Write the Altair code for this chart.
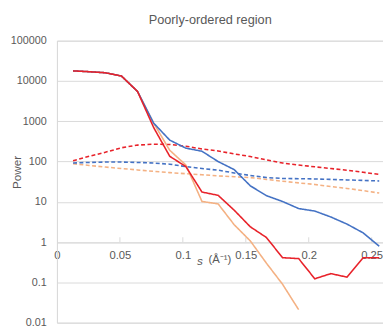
import altair as alt
import pandas as pd

# s values (Å^-1), one per shell
s_vals = [0.0128 * k for k in range(1, 21)]

red_solid = [17800, 17000, 16000, 13300, 5500, 700, 135, 75, 17.5, 14.5,
             6.2, 2.4, 1.3, 0.41, 0.39, 0.123, 0.165, 0.135, 0.41, 0.41]
blue_solid = [17800, 17000, 16000, 13300, 5500, 900, 340, 215, 180, 100,
              63, 25, 14.2, 10.2, 6.8, 5.9, 4.2, 2.8, 1.7, 0.79]
orange_solid = [17800, 17000, 16000, 13300, 5500, 900, 190, 82, 10.2, 8.9,
                2.7, 1.07, 0.3, 0.09, 0.021]
red_dashed = [105, 135, 170, 220, 256, 270, 265, 240, 205, 183,
              155, 133, 110, 92, 82, 74, 67, 61, 54, 48]
blue_dashed = [92, 95, 97, 97, 95, 92, 86, 75, 67, 61,
               52, 45, 40, 38, 37.5, 37, 36, 35, 34, 33]
orange_dashed = [88, 80, 73, 67, 62, 57, 53, 50, 47, 44,
                 42, 40, 36, 32.5, 29.5, 27, 24, 21.5, 19, 16.5]

x_ticks = [0, 0.05, 0.1, 0.15, 0.2, 0.25]
y_ticks = [0.01, 0.1, 1, 10, 100, 1000, 10000, 100000]

series = [
    ("orange dashed", orange_dashed, "dashed"),
    ("blue dashed", blue_dashed, "dashed"),
    ("red dashed", red_dashed, "dashed"),
    ("orange solid", orange_solid, "solid"),
    ("blue solid", blue_solid, "solid"),
    ("red solid", red_solid, "solid"),
]
colors = {
    "orange dashed": "#F4B183", "blue dashed": "#4472C4", "red dashed": "#E8222A",
    "orange solid": "#F4B183", "blue solid": "#4472C4", "red solid": "#E8222A",
}

rows = []
for order, (name, vals, style) in enumerate(series):
    for s, v in zip(s_vals, vals):
        rows.append({"series": name, "s": s, "power": v, "style": style, "order": order})
df = pd.DataFrame(rows)

W, H = 333, 288
XMAX = 0.259
x_scale = alt.Scale(domain=[0, XMAX], nice=False, zero=False)
y_scale = alt.Scale(type="log", domain=[0.01, 100000], nice=False)

gray = "#595959"
grid = "#D9D9D9"
font = "Liberation Sans"

y_axis = alt.Axis(values=y_ticks, grid=True, gridColor=grid, gridWidth=1,
                  domainColor=grid, domainWidth=1, ticks=False,
                  labelExpr="datum.value < 1 ? format(datum.value, '.2~f') : format(datum.value, 'd')",
                  labelFont=font, labelFontSize=11, labelColor=gray, labelPadding=11,
                  title="Power", titleFont=font, titleFontSize=12, titleColor=gray,
                  titleFontWeight="normal", titleX=-41, titleY=134,
                  titleAlign="center", titleBaseline="middle", titleAngle=-90)
x_axis = alt.Axis(values=x_ticks, grid=False, domainColor=grid, domainWidth=1,
                  ticks=False, offset=-82, labelFlush=False,
                  labelExpr="format(datum.value, '~g')",
                  labelFont=font, labelFontSize=11.5, labelColor=gray, labelPadding=7,
                  title="(Å⁻¹)", titleFont=font, titleFontSize=11.5, titleColor=gray,
                  titleFontWeight="normal", titleX=166, titleY=18,
                  titleAlign="center", titleBaseline="middle")

# x tick marks pointing up from y=1
tick_df = pd.DataFrame({"s": x_ticks[1:], "y0": [1] * 5, "y1": [1.32] * 5})
ticks = alt.Chart(tick_df).mark_rule(color=grid, strokeWidth=1).encode(
    x=alt.X("s:Q", scale=x_scale, axis=x_axis),
    y=alt.Y("y0:Q", scale=y_scale, axis=y_axis), y2="y1:Q")

lines = alt.Chart(df).mark_line(strokeWidth=1.6, clip=True).encode(
    x=alt.X("s:Q", scale=x_scale, axis=x_axis),
    y=alt.Y("power:Q", scale=y_scale, axis=y_axis),
    color=alt.Color("series:N", scale=alt.Scale(domain=list(colors.keys()),
                                                range=list(colors.values())), legend=None),
    strokeDash=alt.StrokeDash("style:N", scale=alt.Scale(domain=["solid", "dashed"],
                                                         range=[[1, 0], [4, 2.5]]), legend=None),
    detail="series:N",
    order="order:Q",
)

s_label = alt.Chart(pd.DataFrame({"t": ["s"]})).mark_text(
    font=font, fontSize=12, fontStyle="italic", color=gray, baseline="middle", align="center"
).encode(text="t:N", x=alt.value(146), y=alt.value(225))

chart = alt.layer(ticks, lines, s_label).properties(
    width=W, height=H,
    title=alt.TitleParams("Poorly-ordered region", font=font, fontSize=13, color=gray,
                          fontWeight="normal", anchor="middle", dx=-10, offset=8),
    autosize=alt.AutoSizeParams(type="none"),
    padding={"left": 50, "top": 30, "right": 0, "bottom": 0},
).configure_view(stroke=None).configure(background="white")

chart.save("out.html", embed_options={"renderer": "svg", "actions": False})
